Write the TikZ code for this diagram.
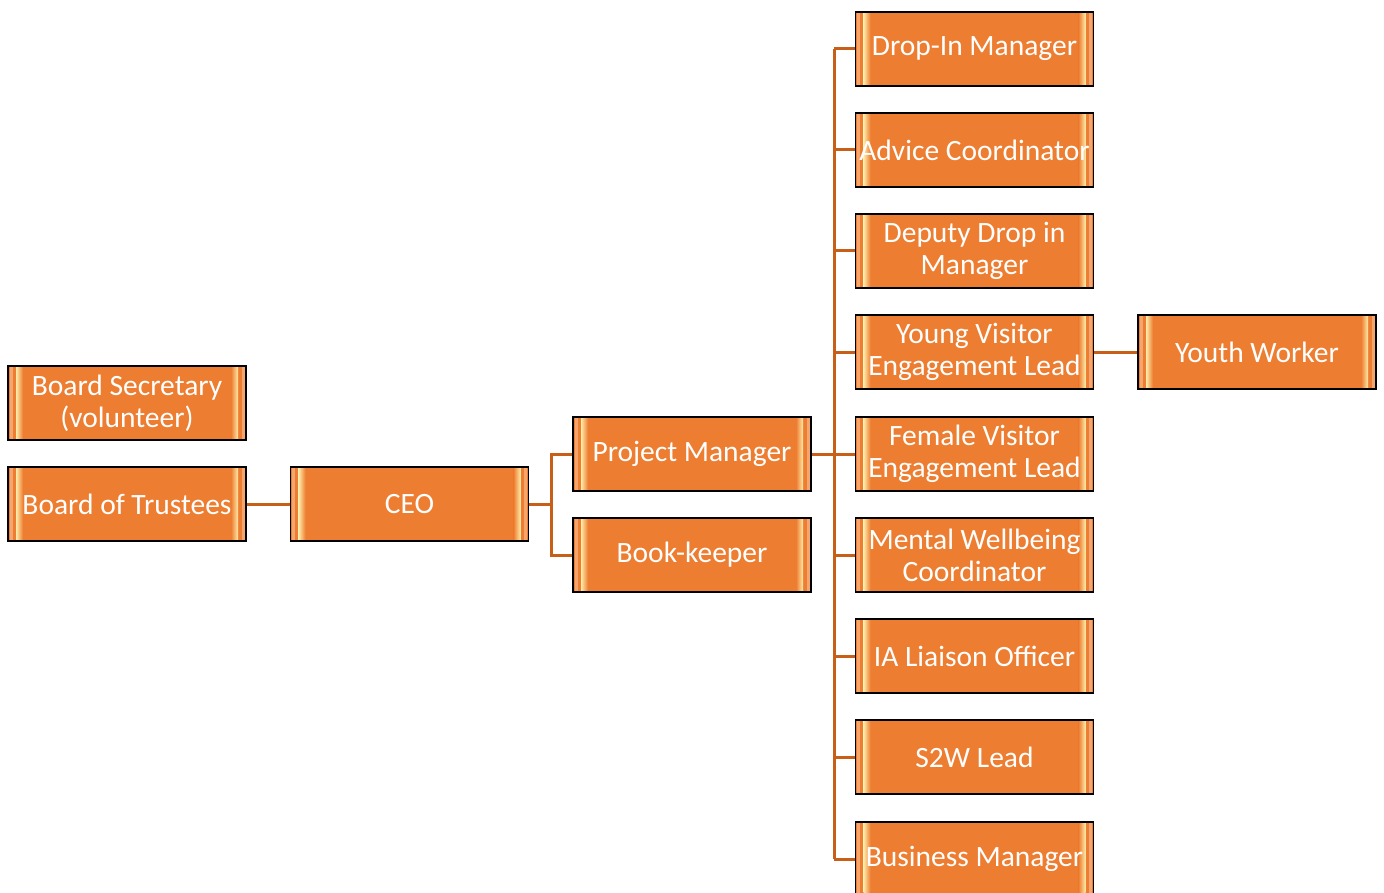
\documentclass[tikz,border=0pt]{standalone}
\usepackage{fontspec}
\setmainfont{Carlito}
\usetikzlibrary{positioning}
\definecolor{boxorange}{RGB}{237,125,49}
\definecolor{bevellight}{RGB}{255,236,170}
\definecolor{rimlight}{RGB}{245,165,110}
\definecolor{linkorange}{RGB}{200,95,25}
\tikzset{
  orgbox/.style={draw=black, line width=1.5pt, fill=boxorange, text=white,
    minimum width=238, minimum height=74, inner sep=0pt, align=center,
    font=\fontsize{29.5}{32}\selectfont,
    path picture={
      \draw[rimlight, line width=3pt]
        ([shift={(3,-3)}]path picture bounding box.north west) rectangle
        ([shift={(-3,3)}]path picture bounding box.south east);
      \fill[left color=bevellight, right color=boxorange]
        ([shift={(8,-11)}]path picture bounding box.north west) rectangle
        ([shift={(15,11)}]path picture bounding box.south west);
      \fill[left color=boxorange, right color=bevellight]
        ([shift={(-15,-11)}]path picture bounding box.north east) rectangle
        ([shift={(-8,11)}]path picture bounding box.south east);
    }},
  link/.style={draw=linkorange, line width=3pt}
}
\begin{document}
\begin{tikzpicture}[x=1pt,y=-1pt]
\useasboundingbox (0,0) rectangle (1384,893);
\clip (0,0) rectangle (1384,893);
% left part of the chart
\node[orgbox] (secretary) at (127,403) {Board Secretary\\(volunteer)};
\node[orgbox] (trustees) at (127,504) {Board of Trustees};
\node[orgbox] (ceo) at (409.5,504) {CEO};
\node[orgbox] (pm) at (692,454) {Project Manager};
\node[orgbox] (book) at (692,555) {Book-keeper};
% staff under the project manager
\node[orgbox] (dropin) at (974.5,49) {Drop-In Manager};
\node[orgbox] (advice) at (974.5,150) {Advice Coordinator};
\node[orgbox] (deputy) at (974.5,251) {Deputy Drop in\\Manager};
\node[orgbox] (young) at (974.5,352) {Young Visitor\\Engagement Lead};
\node[orgbox] (female) at (974.5,454) {Female Visitor\\Engagement Lead};
\node[orgbox] (mental) at (974.5,555) {Mental Wellbeing\\Coordinator};
\node[orgbox] (liaison) at (974.5,656) {IA Liaison Officer};
\node[orgbox] (s2w) at (974.5,757) {S2W Lead};
\node[orgbox] (business) at (974.5,859) {Business Manager};
\node[orgbox] (youth) at (1257,352) {Youth Worker};
\coordinate (ceofork) at (551,0);
\coordinate (spine) at (834,0);
\draw[link] (trustees) -- (ceo);
\draw[link] (ceo.east) -- (ceofork |- ceo) |- (pm.west);
\draw[link] (ceofork |- ceo) |- (book.west);
\draw[link] (spine |- dropin) -- (spine |- business);
\draw[link] (pm.east) -- (female.west);
\foreach \n in {dropin,advice,deputy,young,mental,liaison,s2w,business}
  \draw[link] (spine |- \n.west) -- (\n.west);
\draw[link] (young) -- (youth);
\end{tikzpicture}
\end{document}
